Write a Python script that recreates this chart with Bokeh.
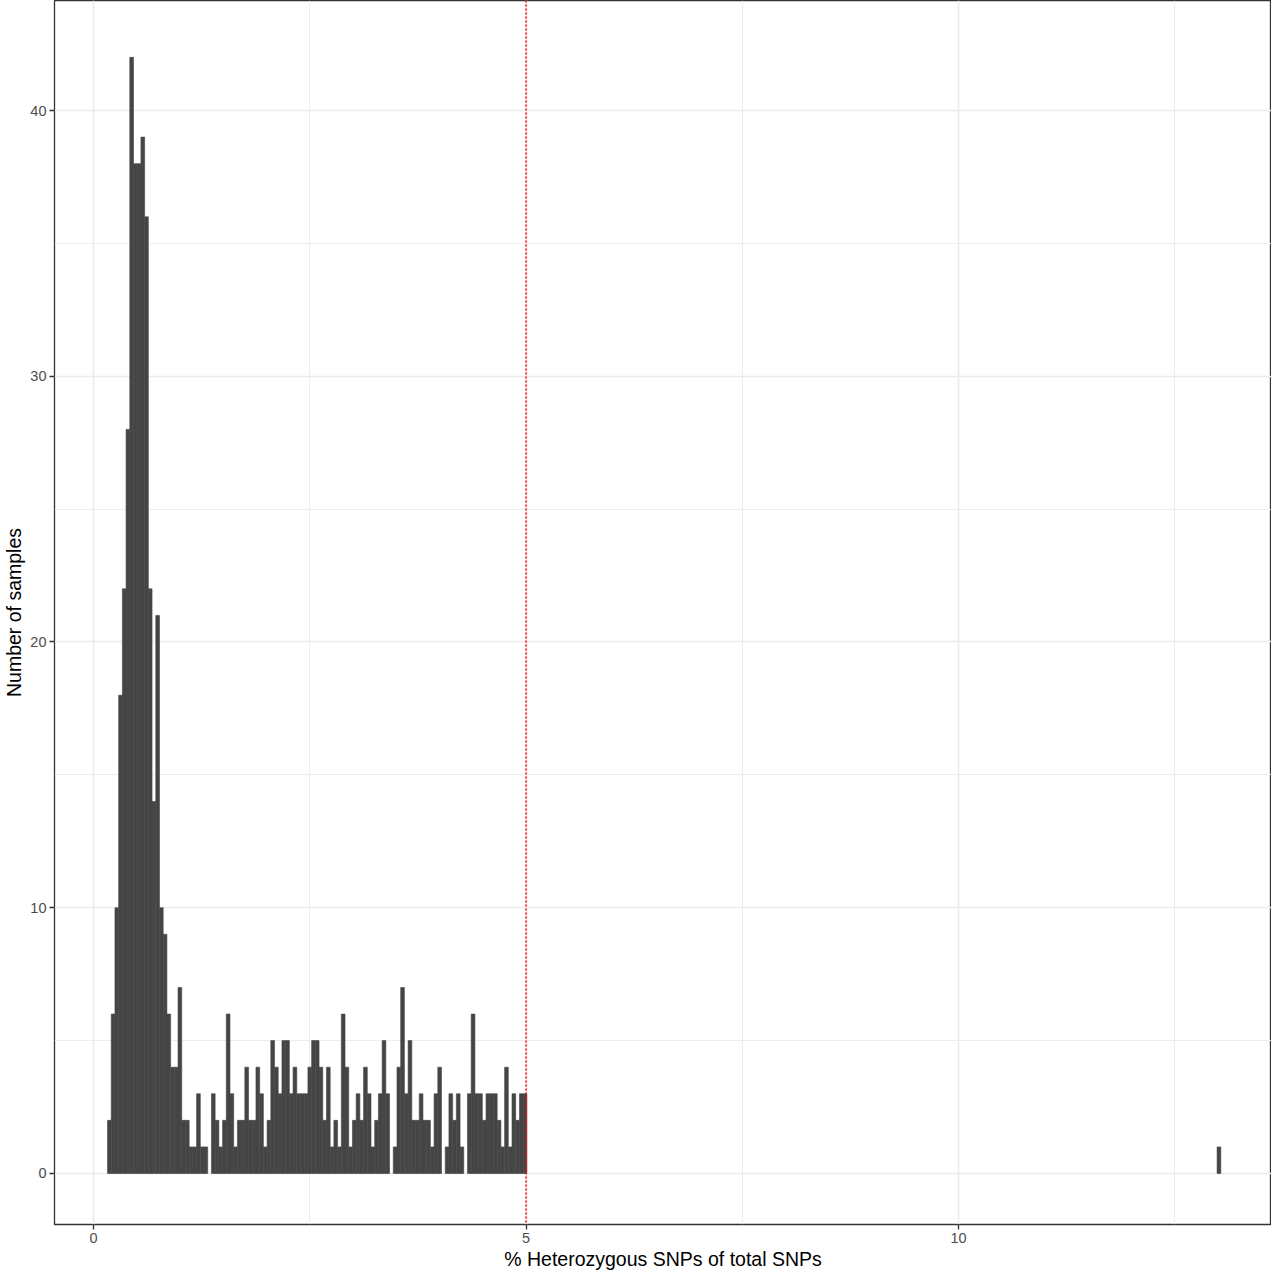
from bokeh.plotting import figure
from bokeh.models import FixedTicker, ColumnDataSource, Span
from bokeh.embed import file_html
from bokeh.resources import INLINE

# Histogram of % heterozygous SNPs (300 bins over the data range)
first_bin_left = 0.162
bin_width = 0.0429
# counts for consecutive bins starting at first_bin_left
counts = [2, 6, 10, 18, 22, 28, 42, 38, 38, 39, 36, 22, 14, 21, 10, 9, 6, 4, 4, 7,
          2, 2, 1, 1, 3, 1, 1, 0, 3, 2, 1, 2, 6, 3, 1, 2, 2, 4, 2, 2,
          4, 3, 1, 2, 5, 4, 3, 5, 5, 3, 4, 3, 3, 3, 4, 5, 5, 4, 2, 4,
          1, 2, 1, 6, 4, 1, 2, 3, 2, 4, 3, 1, 2, 3, 5, 3, 0, 1, 4, 7,
          3, 5, 2, 2, 3, 2, 2, 1, 3, 4, 0, 1, 3, 2, 3, 1, 0, 3, 6, 3,
          3, 2, 3, 3, 3, 2, 1, 4, 1, 3, 2, 3, 3]
# isolated outlier bin far to the right
outlier_bins = [299]
outlier_counts = [1]
threshold = 5.0

x_ticks = [0, 5, 10]
x_minor = [2.5, 7.5, 12.5]
y_ticks = [0, 10, 20, 30, 40]
y_minor = [5, 15, 25, 35]

bins = list(range(len(counts))) + outlier_bins
vals = counts + outlier_counts
left, right, top = [], [], []
for b, c in zip(bins, vals):
    if c > 0:
        left.append(first_bin_left + b * bin_width)
        right.append(first_bin_left + (b + 1) * bin_width)
        top.append(c)
src = ColumnDataSource(dict(left=left, right=right, top=top, bottom=[0] * len(top)))

p = figure(width=1271, height=1272, output_backend="svg", toolbar_location=None,
           x_range=(-0.451, 13.618), y_range=(-1.92, 44.14),
           min_border_left=50, min_border_right=0, min_border_top=0, min_border_bottom=44)

p.quad(left="left", right="right", top="top", bottom="bottom", source=src,
       fill_color="#454545", line_color="#454545", line_width=0.6)

p.add_layout(Span(location=threshold, dimension="height", line_color="#FF0000",
                  line_dash="2 2", line_width=1.5))

p.xaxis.ticker = FixedTicker(ticks=x_ticks, minor_ticks=x_minor)
p.yaxis.ticker = FixedTicker(ticks=y_ticks, minor_ticks=y_minor)

p.xaxis.axis_label = "% Heterozygous SNPs of total SNPs"
p.yaxis.axis_label = "Number of samples"

for ax in (p.xaxis, p.yaxis):
    ax.axis_line_color = None
    ax.major_tick_line_color = "#333333"
    ax.major_tick_line_width = 1.3
    ax.major_tick_out = 5
    ax.major_tick_in = 0
    ax.minor_tick_line_color = None
    ax.major_label_text_font = "Liberation Sans"
    ax.major_label_text_font_size = "14.5px"
    ax.major_label_text_color = "#4D4D4D"
    ax.axis_label_text_font = "Liberation Sans"
    ax.axis_label_text_font_size = "19.5px"
    ax.axis_label_text_font_style = "normal"
    ax.axis_label_text_color = "#000000"
    ax.major_label_standoff = 3
    ax.axis_label_standoff = 2

for g in (p.xgrid, p.ygrid):
    g.grid_line_color = "#EBEBEB"
    g.grid_line_width = 1.6
    g.minor_grid_line_color = "#EBEBEB"
    g.minor_grid_line_width = 0.9

p.outline_line_color = "#333333"
p.outline_line_width = 1.3
p.background_fill_color = "#FFFFFF"
p.border_fill_color = "#FFFFFF"

open("out.html", "w").write(file_html(p, INLINE))
